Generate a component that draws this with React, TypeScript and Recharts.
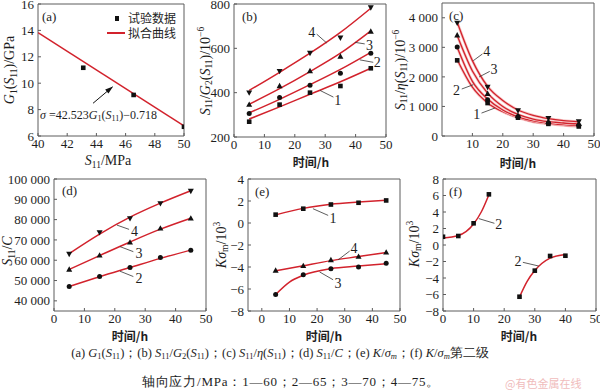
import React from "react";
import {
  ComposedChart,
  Line,
  Scatter,
  XAxis,
  YAxis,
  ReferenceArea,
  ReferenceLine,
  ReferenceDot,
} from "recharts";

const RED = "#d2222c";
const HALO = "#f6c6c6";
const FRAME = "#5c5c5c";
const INK = "#1e1e1e";
const SERIF = '"Liberation Serif", "DejaVu Serif", serif';
const CJK = '"Noto Sans CJK SC", "Noto Sans CJK JP", sans-serif';

// (a) G1(S11) vs stress
const aStress = [43.1, 46.55, 50];
const aG1 = [11.17, 9.11, 6.7];
const aFitStress = [40, 50];
const aFitG1 = [13.83, 6.76];

// sampling times (h)
const times = [5, 15, 25, 35, 45];

// (b) S11/G2(S11) /10^-6
const b1 = [269, 346, 400, 430, 510];
const b2 = [306, 378, 433, 488, 578];
const b3 = [346, 430, 498, 563, 676];
const b4 = [400, 497, 579, 648, 784];
const bFit1 = [281, 336, 393, 449, 510];
const bFit2 = [309, 370, 436, 505, 582];
const bFit3 = [348, 418, 495, 578, 679];
const bFit4 = [410, 492, 578, 672, 781];

// (c) S11/eta(S11) /10^-6
const c1 = [2560, 1115, 620, 410, 322];
const c2 = [3013, 1227, 650, 435, 356];
const c3 = [3407, 1430, 685, 490, 413];
const c4 = [3827, 1657, 865, 605, 490];
const cFitT = [5, 10, 15, 20, 25, 30, 35, 40, 45];
const cFit1 = [2580, 1650, 1120, 820, 620, 480, 410, 360, 325];
const cFit2 = [3000, 1850, 1250, 880, 650, 510, 430, 385, 355];
const cFit3 = [3400, 2200, 1450, 1000, 730, 570, 485, 440, 410];
const cFit4 = [3850, 2550, 1680, 1200, 880, 700, 590, 520, 480];

// (d) S11/C
const d2 = [47100, 52000, 56400, 61300, 64900];
const d3 = [55400, 62400, 68800, 75700, 80600];
const d4 = [63100, 73700, 80600, 88000, 94100];
const dFit2 = [47100, 51900, 56400, 60900, 65000];
const dFit3 = [55500, 62300, 69000, 75300, 80700];
const dFit4 = [63300, 72900, 81200, 88100, 94200];

// (e) K sigma_m /10^3
const e1 = [0.76, 1.3, 1.68, 1.84, 2.05];
const e3 = [-6.51, -4.71, -4.17, -3.99, -3.66];
const e4 = [-4.32, -3.9, -3.36, -3.06, -2.67];
const eFit1 = [0.74, 1.33, 1.7, 1.9, 2.06];
const eFit4 = [-4.35, -3.88, -3.42, -3.05, -2.68];
const eFit3T = [5, 10, 15, 25, 35, 45];
const eFit3 = [-6.5, -5.37, -4.75, -4.15, -3.92, -3.7];

// (f) K sigma_m, second stage
const fT1 = [0, 5, 10, 15];
const fV1 = [1.0, 1.09, 2.63, 6.14];
const fT2 = [25, 30, 35, 40];
const fV2 = [-6.27, -3.11, -1.33, -1.3];
const fFitT1 = [0, 5, 10, 12.5, 15];
const fFit1 = [0.85, 1.15, 2.55, 4.0, 6.1];
const fFitT2 = [25, 27.5, 30, 35, 40];
const fFit2 = [-6.3, -4.4, -3.1, -1.6, -1.15];

// curve labels: text, text position, leader start, leader end (data units)
type Note = { t: string; x: number; y: number; x1: number; y1: number; x2: number; y2: number };
const bNotes: Note[] = [
  { t: "4", x: 25.6, y: 670, x1: 27.2, y1: 664, x2: 30.5, y2: 624 },
  { t: "3", x: 44.6, y: 612, x1: 43.0, y1: 620, x2: 39.8, y2: 627 },
  { t: "2", x: 47.1, y: 535, x1: 45.8, y1: 537, x2: 41.4, y2: 548 },
  { t: "1", x: 34.1, y: 366, x1: 32.7, y1: 380, x2: 28.3, y2: 410 },
];
const cNotes: Note[] = [
  { t: "4", x: 14.7, y: 2844, x1: 13.3, y1: 2776, x2: 10.3, y2: 2549 },
  { t: "3", x: 17.1, y: 2244, x1: 15.7, y1: 2186, x2: 12.2, y2: 1997 },
  { t: "2", x: 4.8, y: 1542, x1: 6.5, y1: 1590, x2: 10.3, y2: 1736 },
  { t: "1", x: 11.4, y: 719, x1: 13.0, y1: 776, x2: 17.4, y2: 946 },
];
const dNotes: Note[] = [
  { t: "4", x: 26.5, y: 74020, x1: 24.7, y1: 75200, x2: 20.7, y2: 77300 },
  { t: "3", x: 28.0, y: 63090, x1: 26.1, y1: 64220, x2: 21.7, y2: 66700 },
  { t: "2", x: 28.0, y: 50830, x1: 26.1, y1: 51960, x2: 21.7, y2: 54600 },
];
const eNotes: Note[] = [
  { t: "1", x: 25.8, y: 0.45, x1: 24.0, y1: 0.69, x2: 18.5, y2: 1.3 },
  { t: "4", x: 33.4, y: -2.31, x1: 31.8, y1: -2.55, x2: 27.6, y2: -3.35 },
  { t: "3", x: 27.6, y: -5.46, x1: 25.8, y1: -5.16, x2: 20.9, y2: -4.45 },
];
const fNotes: Note[] = [
  { t: "2", x: 18.2, y: 2.51, x1: 16.8, y1: 2.63, x2: 11.7, y2: 3.2 },
  { t: "2", x: 24.5, y: -1.94, x1: 26.1, y1: -2.1, x2: 31.3, y2: -2.55 },
];

const pts = (xs: number[], ys: number[]) => xs.map((x, i) => ({ x, y: ys[i] }));

const minus = (v: number) => String(v).replace("-", "\u2212");
const thousands = (v: number) => String(v).replace(/\B(?=(\d{3})+(?!\d))/g, " ");

const marker = (kind: string) => (p: any) => {
  const { cx, cy } = p;
  if (cx == null || cy == null) return <g />;
  const s = 2.3;
  if (kind === "sq") return <rect x={cx - s} y={cy - s} width={2 * s} height={2 * s} fill="#111" />;
  if (kind === "ci") return <circle cx={cx} cy={cy} r={2.5} fill="#111" />;
  if (kind === "up")
    return <polygon points={`${cx},${cy - 3.2} ${cx - 3},${cy + 2.2} ${cx + 3},${cy + 2.2}`} fill="#111" />;
  return <polygon points={`${cx},${cy + 3.2} ${cx - 3},${cy - 2.2} ${cx + 3},${cy - 2.2}`} fill="#111" />;
};

const fit = (key: string, xs: number[], ys: number[], halo = false) => {
  const out = [];
  if (halo)
    out.push(
      <Line key={key + "h"} data={pts(xs, ys)} dataKey="y" type="monotone" stroke={HALO}
        strokeWidth={2.8} dot={false} activeDot={false} isAnimationActive={false} />
    );
  out.push(
    <Line key={key} data={pts(xs, ys)} dataKey="y" type="monotone" stroke={RED}
      strokeWidth={halo ? 1.3 : 1.5} dot={false} activeDot={false} isAnimationActive={false} />
  );
  return out;
};

const dots = (key: string, kind: string, xs: number[], ys: number[]) => (
  <Scatter key={key} data={pts(xs, ys)} dataKey="y" shape={marker(kind)} isAnimationActive={false} />
);

const notes = (list: Note[]) =>
  list.flatMap((n, i) => [
    <ReferenceLine key={"l" + i} segment={[{ x: n.x1, y: n.y1 }, { x: n.x2, y: n.y2 }]}
      stroke="#333" strokeWidth={0.8} ifOverflow="visible" />,
    <ReferenceDot key={"t" + i} x={n.x} y={n.y} r={0} ifOverflow="visible"
      shape={(p: any) => (
        <text x={p.cx} y={p.cy} textAnchor="middle" dominantBaseline="central"
          fontFamily={SERIF} fontSize={14} fill={INK}>{n.t}</text>
      )} />,
  ]);

type Box = { left: number; top: number; width: number; height: number };
const PAD_L = 56, PAD_R = 8, PAD_T = 8, PAD_B = 24;
const tickStyle = { fill: INK, fontSize: 13, fontFamily: SERIF };

function Panel({ box, xDomain, yDomain, xTicks, yTicks, yFmt, children }: {
  box: Box; xDomain: number[]; yDomain: number[]; xTicks: number[]; yTicks: number[];
  yFmt?: (v: number) => string; children: any;
}) {
  return (
    <div style={{ position: "absolute", left: box.left - PAD_L, top: box.top - PAD_T }}>
      <ComposedChart width={box.width + PAD_L + PAD_R} height={box.height + PAD_T + PAD_B}
        margin={{ top: PAD_T, right: PAD_R, bottom: 0, left: 0 }}>
        <XAxis type="number" dataKey="x" domain={xDomain} ticks={xTicks} allowDataOverflow
          height={PAD_B} axisLine={false} tickSize={-3} tickMargin={6} interval={0}
          tickLine={{ stroke: FRAME }} tick={tickStyle} />
        <YAxis type="number" dataKey="y" domain={yDomain} ticks={yTicks} allowDataOverflow
          width={PAD_L} axisLine={false} tickSize={-3} tickMargin={7} interval={0}
          tickLine={{ stroke: FRAME }} tick={tickStyle} tickFormatter={yFmt ?? minus} />
        {children}
        <ReferenceArea x1={xDomain[0]} x2={xDomain[1]} y1={yDomain[0]} y2={yDomain[1]}
          fill="none" stroke={FRAME} strokeWidth={1} ifOverflow="visible" />
      </ComposedChart>
    </div>
  );
}

const Sub = ({ children }: any) => (
  <span style={{ fontSize: "0.68em", verticalAlign: "-0.28em" }}>{children}</span>
);
const Sup = ({ children }: any) => (
  <span style={{ fontSize: "0.68em", verticalAlign: "0.55em" }}>{children}</span>
);
const I = ({ children }: any) => <i>{children}</i>;

const Txt = ({ x, y, size = 13, font = SERIF, center = false, weight = 400, color = INK, spacing = 0, children }: any) => (
  <div style={{
    position: "absolute", left: x, top: y, whiteSpace: "nowrap", lineHeight: 1,
    transform: center ? "translate(-50%, -50%)" : "translateY(-50%)",
    fontFamily: font, fontSize: size, fontWeight: weight, color, letterSpacing: spacing,
  }}>{children}</div>
);

const VTitle = ({ x, y, children }: any) => (
  <div style={{
    position: "absolute", left: x, top: y, whiteSpace: "nowrap", lineHeight: 1,
    transform: "translate(-50%, -50%) rotate(-90deg)", fontFamily: SERIF, fontSize: 14, color: INK,
  }}>{children}</div>
);

const TimeTitle = ({ x, y }: any) => (
  <Txt x={x} y={y} center font={CJK} size={12} weight={700}>时间/h</Txt>
);

const arrowHead = (p: any) => (
  <polygon transform={`translate(${p.cx},${p.cy}) rotate(-38.7)`} points="0,0 -8,-2.6 -8,2.6" fill="#111" />
);

export default function App() {
  return (
    <div style={{ position: "absolute", left: 0, top: 0, width: 600, height: 392, background: "#fff", overflow: "hidden" }}>
      {/* (a) */}
      <Panel box={{ left: 38, top: 4, width: 146, height: 132 }} xDomain={[40, 50]} yDomain={[6, 16]}
        xTicks={[40, 42, 44, 46, 48, 50]} yTicks={[6, 8, 10, 12, 14, 16]}>
        {fit("a", aFitStress, aFitG1)}
        {dots("ad", "sq", aStress, aG1)}
        <ReferenceLine segment={[{ x: 43.77, y: 8.48 }, { x: 45.1, y: 9.72 }]} stroke="#111" strokeWidth={1} ifOverflow="visible" />
        <ReferenceDot x={45.14} y={9.75} r={0} ifOverflow="visible" shape={arrowHead} />
      </Panel>
      <Txt x={42} y={16}>(a)</Txt>
      <div style={{ position: "absolute", left: 114.5, top: 16, width: 4.5, height: 4.5, background: "#111" }} />
      <Txt x={128} y={18} font={CJK} size={12}>试验数据</Txt>
      <div style={{ position: "absolute", left: 107, top: 32, width: 18, height: 1.6, background: RED }} />
      <Txt x={128} y={33} font={CJK} size={12}>拟合曲线</Txt>
      <Txt x={40} y={116} size={12}>
        <I>σ</I> =42.523<I>G</I><Sub>1</Sub>(<I>S</I><Sub>11</Sub>)−0.718
      </Txt>
      <VTitle x={11} y={70}><I>G</I><Sub>1</Sub>(<I>S</I><Sub>11</Sub>)/GPa</VTitle>
      <Txt x={108} y={162} center size={14}><I>S</I><Sub>11</Sub>/MPa</Txt>

      {/* (b) */}
      <Panel box={{ left: 234, top: 4, width: 152, height: 133 }} xDomain={[0, 50]} yDomain={[200, 800]}
        xTicks={[0, 10, 20, 30, 40, 50]} yTicks={[200, 400, 600, 800]}>
        {fit("b1", times, bFit1)}
        {fit("b2", times, bFit2)}
        {fit("b3", times, bFit3)}
        {fit("b4", times, bFit4)}
        {dots("b1d", "sq", times, b1)}
        {dots("b2d", "ci", times, b2)}
        {dots("b3d", "up", times, b3)}
        {dots("b4d", "down", times, b4)}
        {notes(bNotes)}
      </Panel>
      <Txt x={242} y={16}>(b)</Txt>
      <VTitle x={206} y={71}><I>S</I><Sub>11</Sub>/<I>G</I><Sub>2</Sub>(<I>S</I><Sub>11</Sub>)/10<Sup>−6</Sup></VTitle>
      <TimeTitle x={311} y={162} />

      {/* (c) */}
      <Panel box={{ left: 442, top: 3, width: 152, height: 133 }} xDomain={[0, 50]} yDomain={[0, 4500]}
        xTicks={[10, 20, 30, 40, 50]} yTicks={[0, 1000, 2000, 3000, 4000]} yFmt={thousands}>
        {fit("c1", cFitT, cFit1, true)}
        {fit("c2", cFitT, cFit2, true)}
        {fit("c3", cFitT, cFit3, true)}
        {fit("c4", cFitT, cFit4, true)}
        {dots("c1d", "sq", times, c1)}
        {dots("c2d", "ci", times, c2)}
        {dots("c3d", "up", times, c3)}
        {dots("c4d", "down", times, c4)}
        {notes(cNotes)}
      </Panel>
      <Txt x={449} y={15}>(c)</Txt>
      <VTitle x={401} y={70}><I>S</I><Sub>11</Sub>/<I>η</I>(<I>S</I><Sub>11</Sub>)/10<Sup>−6</Sup></VTitle>
      <TimeTitle x={518} y={163} />

      {/* (d) */}
      <Panel box={{ left: 54, top: 179, width: 152, height: 132 }} xDomain={[0, 50]} yDomain={[35000, 100000]}
        xTicks={[0, 10, 20, 30, 40, 50]} yTicks={[40000, 50000, 60000, 70000, 80000, 90000, 100000]} yFmt={thousands}>
        {fit("d2", times, dFit2)}
        {fit("d3", times, dFit3)}
        {fit("d4", times, dFit4)}
        {dots("d2d", "ci", times, d2)}
        {dots("d3d", "up", times, d3)}
        {dots("d4d", "down", times, d4)}
        {notes(dNotes)}
      </Panel>
      <Txt x={62} y={190}>(d)</Txt>
      <VTitle x={9} y={251}><I>S</I><Sub>11</Sub>/<I>C</I></VTitle>
      <TimeTitle x={130} y={336} />

      {/* (e) */}
      <Panel box={{ left: 248, top: 179, width: 152, height: 132 }} xDomain={[-5, 50]} yDomain={[-8, 4]}
        xTicks={[0, 10, 20, 30, 40, 50]} yTicks={[-8, -6, -4, -2, 0, 2, 4]}>
        {fit("e1", times, eFit1)}
        {fit("e3", eFit3T, eFit3)}
        {fit("e4", times, eFit4)}
        {dots("e1d", "sq", times, e1)}
        {dots("e3d", "ci", times, e3)}
        {dots("e4d", "up", times, e4)}
        {notes(eNotes)}
      </Panel>
      <Txt x={255} y={191}>(e)</Txt>
      <VTitle x={222} y={245}><I>K</I><I>σ</I><Sub>m</Sub>/10<Sup>3</Sup></VTitle>
      <TimeTitle x={324} y={336} />

      {/* (f) */}
      <Panel box={{ left: 443, top: 179, width: 153, height: 132 }} xDomain={[0, 50]} yDomain={[-8, 8]}
        xTicks={[0, 10, 20, 30, 40, 50]} yTicks={[-8, -6, -4, -2, 0, 2, 4, 6, 8]}>
        {fit("f1", fFitT1, fFit1)}
        {fit("f2", fFitT2, fFit2)}
        {dots("f1d", "sq", fT1, fV1)}
        {dots("f2d", "sq", fT2, fV2)}
        {notes(fNotes)}
      </Panel>
      <Txt x={449} y={191}>(f)</Txt>
      <VTitle x={415} y={244}><I>K</I><I>σ</I><Sub>m</Sub>/10<Sup>3</Sup></VTitle>
      <TimeTitle x={519} y={336} />

      {/* caption */}
      <Txt x={280} y={354} center size={12.5}>
        (a) <I>G</I><Sub>1</Sub>(<I>S</I><Sub>11</Sub>)；(b) <I>S</I><Sub>11</Sub>/<I>G</I><Sub>2</Sub>(<I>S</I><Sub>11</Sub>)；(c) <I>S</I><Sub>11</Sub>/<I>η</I>(<I>S</I><Sub>11</Sub>)；(d) <I>S</I><Sub>11</Sub>/<I>C</I>；(e) <I>K</I>/<I>σ</I><Sub><I>m</I></Sub>；(f) <I>K</I>/<I>σ</I><Sub><I>m</I></Sub>第二级
      </Txt>
      <Txt x={291} y={381} center size={13} spacing={0.8}>轴向应力/MPa：1—60；2—65；3—70；4—75。</Txt>
      <Txt x={505} y={383} font={CJK} size={11} color="#f0bcbc">@有色金属在线</Txt>
    </div>
  );
}
